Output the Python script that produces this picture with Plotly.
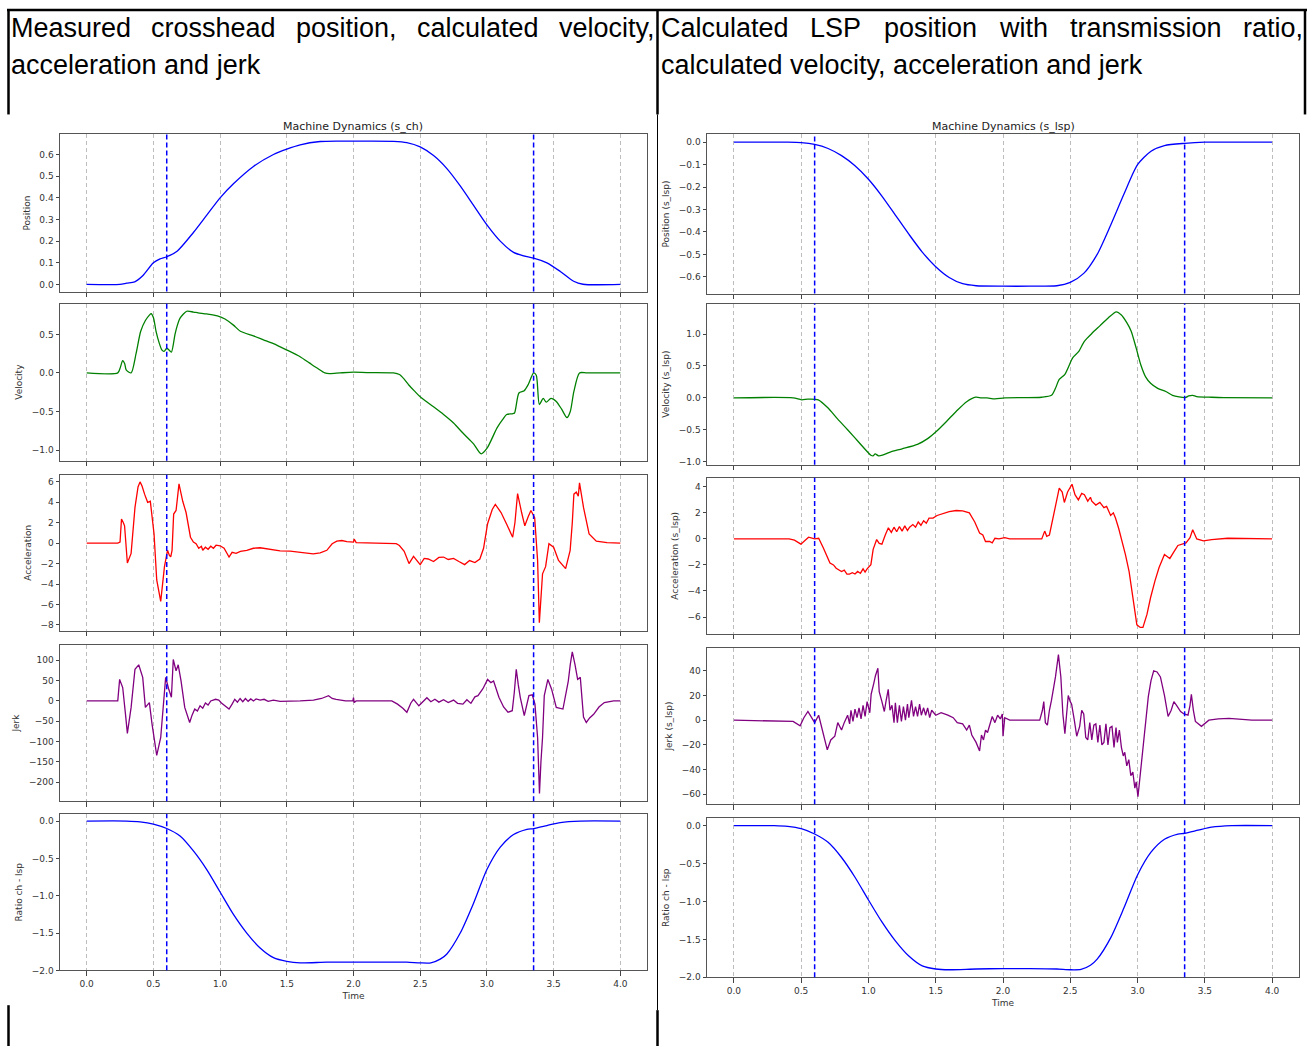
import plotly.graph_objects as go

W, H = 1307, 1051

# ---------------- data (time, value) ----------------
MARKER_TIMES = [0.6, 3.35]
X_TICKS = [0, 0.5, 1.0, 1.5, 2.0, 2.5, 3.0, 3.5, 4.0]

CH_POSITION = [(0, 0), (0.25, 0), (0.3, 0.006), (0.36, 0.012), (0.42, 0.04), (0.5, 0.1),
               (0.55, 0.118), (0.6, 0.128), (0.68, 0.155), (0.8, 0.24), (0.9, 0.32), (1.0, 0.40),
               (1.1, 0.465), (1.25, 0.545), (1.4, 0.60), (1.5, 0.625), (1.6, 0.645), (1.75, 0.66),
               (1.9, 0.662), (2.1, 0.662), (2.3, 0.661), (2.4, 0.655), (2.5, 0.635), (2.6, 0.595),
               (2.7, 0.535), (2.8, 0.455), (2.9, 0.365), (3.0, 0.275), (3.1, 0.2), (3.2, 0.148),
               (3.3, 0.128), (3.35, 0.122), (3.45, 0.10), (3.55, 0.06), (3.65, 0.015), (3.72, 0.001),
               (4.0, 0)]

CH_VELOCITY = [(0, 0), (0.233, 0), (0.25, 0.06), (0.27, 0.16), (0.285, 0.12), (0.296, 0.04),
               (0.333, 0.0), (0.37, 0.25), (0.405, 0.54), (0.44, 0.68), (0.47, 0.75), (0.483, 0.77),
               (0.5, 0.72), (0.52, 0.54), (0.545, 0.38), (0.563, 0.30), (0.58, 0.28), (0.60, 0.32),
               (0.615, 0.30), (0.635, 0.27), (0.662, 0.50), (0.68, 0.62), (0.70, 0.71), (0.75, 0.80),
               (0.8, 0.79), (0.835, 0.78), (0.9, 0.765), (0.98, 0.74), (1.037, 0.70), (1.1, 0.62),
               (1.152, 0.54), (1.25, 0.48), (1.325, 0.43), (1.4, 0.38), (1.497, 0.30), (1.6, 0.21),
               (1.669, 0.13), (1.73, 0.06), (1.785, 0.0), (1.82, -0.01), (1.9, 0.0), (2.0, 0.01),
               (2.1, 0.005), (2.3, 0.0), (2.344, -0.02), (2.38, -0.08), (2.416, -0.16), (2.46, -0.24),
               (2.50, -0.31), (2.6, -0.44), (2.675, -0.54), (2.75, -0.65), (2.82, -0.78), (2.9, -0.92),
               (2.957, -1.05), (3.0, -0.98), (3.077, -0.71), (3.12, -0.6), (3.148, -0.54), (3.19, -0.53),
               (3.207, -0.52), (3.24, -0.26), (3.28, -0.23), (3.31, -0.15), (3.35, 0.0), (3.37, -0.03),
               (3.393, -0.41), (3.422, -0.33), (3.445, -0.38), (3.48, -0.33), (3.52, -0.37), (3.56, -0.47),
               (3.60, -0.58), (3.625, -0.5), (3.652, -0.24), (3.694, 0.0), (3.75, 0.0), (4.0, 0.0)]

CH_ACCELERATION = [(0, 0), (0.233, 0), (0.25, 0.1), (0.261, 2.36), (0.275, 2.0), (0.284, 1.7),
                   (0.305, -1.94), (0.333, -1.0), (0.362, 3.5), (0.385, 5.5), (0.40, 6.0), (0.415, 5.6),
                   (0.434, 4.8), (0.457, 4.0), (0.477, 4.1), (0.49, 2.8), (0.505, 0.9), (0.525, -3.6),
                   (0.555, -5.7), (0.583, -2.3), (0.606, -0.7), (0.62, -1.2), (0.63, -1.35), (0.64, -0.7),
                   (0.652, 2.85), (0.67, 3.2), (0.692, 5.8), (0.705, 5.0), (0.72, 4.1), (0.745, 3.0),
                   (0.778, 0.58), (0.8, 0.1), (0.82, -0.06), (0.84, -0.5), (0.86, -0.3), (0.87, -0.7),
                   (0.89, -0.4), (0.91, -0.6), (0.93, -0.3), (0.95, -0.5), (0.97, -0.2), (1.0, -0.26),
                   (1.03, -0.5), (1.067, -1.36), (1.09, -0.9), (1.12, -1.0), (1.152, -0.8), (1.2, -0.7),
                   (1.25, -0.5), (1.3, -0.45), (1.35, -0.55), (1.4, -0.6), (1.45, -0.75), (1.525, -0.78),
                   (1.6, -0.9), (1.698, -1.04), (1.75, -0.95), (1.80, -0.7), (1.84, -0.06), (1.875, 0.2),
                   (1.913, 0.26), (1.95, 0.15), (2.0, 0.1), (2.005, 0.4), (2.02, 0.05), (2.287, 0.0),
                   (2.32, -0.05), (2.344, -0.23), (2.38, -0.8), (2.416, -2.0), (2.45, -1.3), (2.50, -2.1),
                   (2.53, -1.5), (2.56, -1.55), (2.6, -1.8), (2.64, -1.4), (2.675, -1.36), (2.71, -1.6),
                   (2.75, -1.5), (2.79, -1.8), (2.833, -2.1), (2.87, -1.7), (2.91, -1.9), (2.947, -1.55),
                   (2.975, -0.5), (3.005, 1.9), (3.04, 3.3), (3.063, 3.8), (3.106, 3.0), (3.15, 1.8),
                   (3.193, 0.58), (3.21, 2.0), (3.23, 4.85), (3.26, 3.0), (3.284, 1.7), (3.31, 2.6),
                   (3.33, 3.2), (3.358, 2.5), (3.38, -1.7), (3.393, -7.8), (3.405, -5.0), (3.417, -3.0),
                   (3.44, -2.3), (3.465, -0.06), (3.50, -0.4), (3.537, -1.7), (3.59, -2.5), (3.624, -0.7),
                   (3.64, 2.0), (3.652, 4.8), (3.67, 5.0), (3.685, 4.6), (3.694, 5.9), (3.724, 3.5),
                   (3.766, 0.9), (3.82, 0.2), (3.9, 0.05), (4.0, 0)]

CH_JERK = [(0, 0), (0.233, 0), (0.247, 53), (0.27, 33), (0.29, -30), (0.305, -80), (0.333, -16),
           (0.362, 78), (0.39, 89), (0.42, 58), (0.44, -16), (0.47, -4), (0.49, -57), (0.525, -134),
           (0.555, -90), (0.575, 0), (0.592, 58), (0.614, 30), (0.635, 9), (0.649, 102), (0.67, 74),
           (0.686, 89), (0.707, 50), (0.735, -16), (0.772, -53), (0.79, -35), (0.81, -20), (0.83, -25),
           (0.85, -12), (0.87, -18), (0.89, -5), (0.91, -10), (0.93, 0), (0.966, 4), (0.99, 2),
           (1.01, -5), (1.04, -12), (1.067, -20), (1.09, -8), (1.11, 4), (1.13, -3), (1.15, 6),
           (1.17, -2), (1.19, 6), (1.21, -1), (1.23, 5), (1.25, 0), (1.27, 5), (1.30, 2), (1.33, 4),
           (1.36, -1), (1.40, 2), (1.45, -1), (1.525, -1), (1.6, 0), (1.7, 2), (1.76, 6), (1.813, 13),
           (1.84, 6), (1.87, 4), (1.94, 0), (1.995, 0), (2.0, 8), (2.005, -4), (2.02, 0), (2.287, 0),
           (2.33, -8), (2.37, -18), (2.40, -28), (2.43, -5), (2.45, 4), (2.49, -12), (2.52, -2),
           (2.55, 8), (2.58, -2), (2.61, 4), (2.64, -3), (2.675, 3), (2.71, -4), (2.75, 2), (2.78, -6),
           (2.82, -8), (2.85, 3), (2.88, -6), (2.91, 10), (2.933, 13), (2.97, 30), (3.005, 53),
           (3.03, 45), (3.05, 49), (3.09, 9), (3.125, -15), (3.158, -28), (3.19, -24), (3.205, 20),
           (3.22, 78), (3.235, 40), (3.25, 9), (3.28, -36), (3.3, -5), (3.315, 13), (3.34, 15),
           (3.36, -8), (3.38, -90), (3.394, -228), (3.405, -150), (3.417, -90), (3.43, 13), (3.445, 40),
           (3.457, 53), (3.485, 29), (3.52, -16), (3.57, -20), (3.61, 49), (3.625, 90), (3.64, 121),
           (3.66, 90), (3.68, 53), (3.70, 58), (3.724, -40), (3.745, -53), (3.77, -42), (3.80, -33),
           (3.84, -15), (3.88, -4), (3.95, 0), (4.0, 0)]

CH_RATIO = [(0, 0), (0.3, 0), (0.4, -0.01), (0.5, -0.04), (0.6, -0.1), (0.7, -0.2), (0.8, -0.4),
            (0.9, -0.65), (1.0, -0.95), (1.1, -1.25), (1.2, -1.5), (1.3, -1.7), (1.4, -1.83),
            (1.5, -1.88), (1.6, -1.9), (1.8, -1.89), (2.0, -1.89), (2.2, -1.89), (2.4, -1.89),
            (2.5, -1.9), (2.58, -1.9), (2.65, -1.85), (2.7, -1.78), (2.8, -1.5), (2.9, -1.1),
            (3.0, -0.65), (3.1, -0.35), (3.2, -0.18), (3.3, -0.11), (3.35, -0.1), (3.45, -0.06),
            (3.55, -0.02), (3.7, 0), (4.0, 0)]

LSP_POSITION = [(0, 0), (0.4, 0), (0.5, -0.002), (0.6, -0.01), (0.7, -0.028), (0.8, -0.06),
                (0.9, -0.105), (1.0, -0.165), (1.1, -0.24), (1.2, -0.325), (1.3, -0.41), (1.4, -0.49),
                (1.5, -0.555), (1.6, -0.603), (1.7, -0.631), (1.8, -0.64), (2.0, -0.642), (2.2, -0.642),
                (2.4, -0.64), (2.5, -0.625), (2.6, -0.585), (2.7, -0.5), (2.8, -0.37), (2.9, -0.23),
                (3.0, -0.1), (3.1, -0.04), (3.2, -0.015), (3.35, -0.005), (3.5, 0), (4.0, 0)]

LSP_VELOCITY = [(0, 0), (0.44, 0), (0.503, -0.03), (0.55, -0.02), (0.627, -0.03), (0.70, -0.16),
                (0.77, -0.33), (0.845, -0.5), (0.93, -0.7), (1.018, -0.9), (1.035, -0.91),
                (1.05, -0.88), (1.075, -0.91), (1.104, -0.9), (1.162, -0.85), (1.25, -0.8),
                (1.364, -0.73), (1.44, -0.64), (1.508, -0.52), (1.58, -0.37), (1.653, -0.21),
                (1.73, -0.06), (1.797, 0.01), (1.84, 0.0), (1.88, 0.0), (1.94, -0.015), (2.013, 0.0),
                (2.288, 0.01), (2.36, 0.04), (2.39, 0.15), (2.418, 0.29), (2.46, 0.37), (2.519, 0.63),
                (2.56, 0.72), (2.606, 0.89), (2.66, 1.01), (2.72, 1.13), (2.78, 1.25), (2.842, 1.35),
                (2.88, 1.30), (2.92, 1.18), (2.952, 1.05), (2.99, 0.78), (3.024, 0.52), (3.06, 0.33),
                (3.097, 0.23), (3.15, 0.15), (3.21, 0.10), (3.26, 0.04), (3.355, 0.005), (3.38, 0.03),
                (3.41, 0.04), (3.44, 0.02), (3.55, 0.01), (3.64, 0.005), (4.0, 0)]

LSP_ACCELERATION = [(0, 0), (0.41, 0), (0.45, -0.1), (0.498, -0.4), (0.53, -0.1), (0.555, 0.13),
                    (0.6, 0), (0.63, 0.05), (0.665, -0.7), (0.714, -1.85), (0.74, -2.0), (0.76, -2.25),
                    (0.8, -2.5), (0.82, -2.4), (0.84, -2.7), (0.859, -2.7), (0.88, -2.6), (0.9, -2.7),
                    (0.92, -2.5), (0.94, -2.65), (0.96, -2.3), (0.975, -2.55), (0.99, -2.3),
                    (1.018, -1.98), (1.035, -0.8), (1.061, -0.05), (1.08, -0.35), (1.10, -0.4),
                    (1.125, 0.3), (1.148, 0.85), (1.17, 0.5), (1.19, 0.9), (1.21, 0.55), (1.23, 0.95),
                    (1.25, 0.6), (1.27, 1.0), (1.29, 0.65), (1.306, 0.9), (1.33, 1.1), (1.35, 0.9),
                    (1.37, 1.3), (1.39, 1.05), (1.41, 1.4), (1.43, 1.2), (1.45, 1.6), (1.48, 1.6),
                    (1.51, 1.8), (1.55, 1.95), (1.6, 2.1), (1.653, 2.18), (1.7, 2.15), (1.75, 2.0),
                    (1.79, 1.3), (1.826, 0.45), (1.85, 0.3), (1.87, -0.2), (1.90, -0.2), (1.92, -0.3),
                    (1.94, 0.05), (1.97, 0.0), (2.013, 0.1), (2.05, 0.0), (2.288, 0.0), (2.31, 0.6),
                    (2.325, 0.2), (2.345, 0.3), (2.38, 2.0), (2.418, 3.9), (2.44, 3.6), (2.456, 2.8),
                    (2.48, 3.6), (2.513, 4.2), (2.535, 3.4), (2.56, 3.0), (2.585, 3.5), (2.605, 3.4),
                    (2.63, 2.9), (2.65, 3.2), (2.66, 2.9), (2.69, 2.6), (2.72, 2.8), (2.75, 2.4),
                    (2.77, 2.5), (2.80, 1.8), (2.82, 2.0), (2.836, 1.6), (2.86, 0.8), (2.894, -0.45),
                    (2.91, -1.2), (2.937, -2.5), (2.96, -4.0), (2.98, -5.6), (2.995, -6.6), (3.02, -6.8),
                    (3.04, -6.8), (3.07, -5.8), (3.097, -4.5), (3.13, -3.2), (3.16, -2.2), (3.20, -1.2),
                    (3.24, -1.5), (3.27, -1.0), (3.30, -0.5), (3.36, -0.3), (3.39, 0.1), (3.41, 0.7),
                    (3.425, 0.4), (3.44, 0.0), (3.49, -0.15), (3.55, -0.05), (3.67, 0.05), (4.0, 0)]

LSP_JERK = [(0, 0), (0.44, -1), (0.492, -4.5), (0.52, 2), (0.55, 7), (0.58, 2), (0.6, -2), (0.63, 4),
            (0.665, -12), (0.694, -24), (0.72, -16), (0.75, -13), (0.772, -2), (0.80, -8), (0.82, -2),
            (0.845, 4), (0.86, -3), (0.87, 8), (0.885, -1), (0.9, 9), (0.915, 2), (0.93, 10),
            (0.945, 1), (0.96, 12), (0.975, 3), (0.99, 15), (1.01, 6), (1.02, 21), (1.04, 30),
            (1.052, 36), (1.07, 42), (1.08, 23), (1.1, 15), (1.118, 7), (1.13, 15), (1.147, 25),
            (1.16, 8), (1.175, 12), (1.19, -2), (1.2, 14), (1.215, -2), (1.23, 12), (1.245, -1),
            (1.26, 11), (1.275, 0), (1.29, 13), (1.3, 2), (1.32, 16), (1.335, 3), (1.35, 11),
            (1.365, 3), (1.38, 13), (1.393, 4), (1.41, 10), (1.425, 4), (1.44, 10), (1.455, 2),
            (1.47, 8), (1.5, 4), (1.54, 6), (1.59, 4), (1.63, 2), (1.66, -2), (1.7, -3), (1.73, -8),
            (1.75, -4), (1.768, -12), (1.8, -18), (1.826, -25), (1.84, -12), (1.855, -16), (1.87, -8),
            (1.885, -10), (1.9, -4), (1.92, 3), (1.94, -2), (1.96, 4), (1.98, 1), (1.995, 5),
            (2.0, -13), (2.013, 2), (2.05, 0), (2.273, 0), (2.293, 8), (2.303, 15), (2.315, -2),
            (2.33, -4), (2.345, 8), (2.36, 16), (2.39, 35), (2.412, 53), (2.43, 35), (2.445, 5),
            (2.46, -11), (2.475, 10), (2.485, 20), (2.5, 15), (2.51, 13), (2.53, 0), (2.548, -13),
            (2.57, -5), (2.585, 8), (2.6, 5), (2.615, -14), (2.63, -16), (2.645, -2), (2.66, -16),
            (2.675, -4), (2.69, -3), (2.705, -18), (2.72, -4), (2.735, -20), (2.75, -18), (2.765, -3),
            (2.78, -20), (2.795, -6), (2.81, -5), (2.825, -22), (2.84, -6), (2.85, -18), (2.865, -8),
            (2.88, -22), (2.894, -29), (2.905, -26), (2.92, -37), (2.935, -32), (2.95, -45),
            (2.965, -42), (2.98, -55), (2.99, -50), (3.003, -62), (3.02, -45), (3.04, -24), (3.06, -2),
            (3.08, 19), (3.1, 32), (3.12, 40), (3.145, 39), (3.17, 35), (3.2, 20), (3.227, 3),
            (3.25, 8), (3.27, 15), (3.29, 12), (3.32, 7), (3.345, 5), (3.375, 4), (3.39, 12),
            (3.40, 21), (3.415, 8), (3.43, -1), (3.475, -5), (3.53, 0), (3.6, 1), (3.68, 1.5),
            (3.85, 0), (4.0, 0)]

LSP_RATIO = [(0, 0), (0.3, 0), (0.4, -0.01), (0.5, -0.04), (0.6, -0.11), (0.7, -0.22), (0.8, -0.42),
             (0.9, -0.68), (1.0, -0.98), (1.1, -1.27), (1.2, -1.52), (1.3, -1.72), (1.4, -1.85),
             (1.5, -1.89), (1.6, -1.9), (1.8, -1.89), (2.0, -1.885), (2.2, -1.885), (2.4, -1.89),
             (2.5, -1.9), (2.58, -1.895), (2.65, -1.84), (2.7, -1.76), (2.8, -1.48), (2.9, -1.08),
             (3.0, -0.65), (3.1, -0.35), (3.2, -0.18), (3.3, -0.11), (3.35, -0.1), (3.45, -0.06),
             (3.55, -0.02), (3.7, 0), (4.0, 0)]

LEFT_TITLES = ["Position", "Velocity", "Acceleration", "Jerk", "Ratio ch - lsp"]
RIGHT_TITLES = ["Position (s_lsp)", "Velocity (s_lsp)", "Acceleration (s_lsp)", "Jerk (s_lsp)", "Ratio ch - lsp"]
LEFT_YTICKS = [[0.0, 0.1, 0.2, 0.3, 0.4, 0.5, 0.6], [-1.0, -0.5, 0.0, 0.5],
               [-8, -6, -4, -2, 0, 2, 4, 6], [-200, -150, -100, -50, 0, 50, 100],
               [-2.0, -1.5, -1.0, -0.5, 0.0]]
RIGHT_YTICKS = [[-0.6, -0.5, -0.4, -0.3, -0.2, -0.1, 0.0], [-1.0, -0.5, 0.0, 0.5, 1.0],
                [-6, -4, -2, 0, 2, 4], [-60, -40, -20, 0, 20, 40],
                [-2.0, -1.5, -1.0, -0.5, 0.0]]

HEADER_LEFT_LINE1 = ["Measured", "crosshead", "position,", "calculated", "velocity,"]
HEADER_LEFT_LINE2 = "acceleration and jerk"
HEADER_RIGHT_LINE1 = ["Calculated", "LSP", "position", "with", "transmission", "ratio,"]
HEADER_RIGHT_LINE2 = "calculated velocity, acceleration and jerk"

# ---------------- layout helpers ----------------
def xp(x):
    return x / W

def yp(y):
    return 1 - y / H

def fmt(v, d):
    s = f"{abs(v):.{d}f}"
    return "\u2212" + s if v < 0 else s

# Arial / Liberation Sans advance widths (per 1000 em) for justification
ADV = {'a': 556, 'b': 556, 'c': 500, 'd': 556, 'e': 556, 'f': 278, 'g': 556, 'h': 556, 'i': 222,
       'j': 222, 'k': 500, 'l': 222, 'm': 833, 'n': 556, 'o': 556, 'p': 556, 'q': 556, 'r': 333,
       's': 500, 't': 278, 'u': 556, 'v': 500, 'w': 722, 'x': 500, 'y': 500, 'z': 500, ',': 278,
       ' ': 278, 'C': 722, 'L': 556, 'M': 833, 'P': 667, 'S': 667}

def text_width(s, size):
    return sum(ADV.get(ch, 556) for ch in s) * size / 1000.0

def justify(words, left, right, size):
    widths = [text_width(w, size) for w in words]
    gap = (right - left - sum(widths)) / (len(words) - 1)
    xs, x = [], left
    for w in widths:
        xs.append(x)
        x += w + gap
    return xs

BLUE = "#0000ff"
GREEN = "#008000"
RED = "#ff0000"
PURPLE = "#800080"

panels = [
    # col, row, data, color, title, yrange, ticks, decimals, smooth
    (0, 0, CH_POSITION, BLUE, LEFT_TITLES[0], [-0.033, 0.693], LEFT_YTICKS[0], 1, True),
    (0, 1, CH_VELOCITY, GREEN, LEFT_TITLES[1], [-1.14, 0.90], LEFT_YTICKS[1], 1, True),
    (0, 2, CH_ACCELERATION, RED, LEFT_TITLES[2], [-8.6, 6.7], LEFT_YTICKS[2], 0, False),
    (0, 3, CH_JERK, PURPLE, LEFT_TITLES[3], [-247, 138], LEFT_YTICKS[3], 0, False),
    (0, 4, CH_RATIO, BLUE, LEFT_TITLES[4], [-2.0, 0.093], LEFT_YTICKS[4], 1, True),
    (1, 0, LSP_POSITION, BLUE, RIGHT_TITLES[0], [-0.675, 0.035], RIGHT_YTICKS[0], 1, True),
    (1, 1, LSP_VELOCITY, GREEN, RIGHT_TITLES[1], [-1.05, 1.48], RIGHT_YTICKS[1], 1, True),
    (1, 2, LSP_ACCELERATION, RED, RIGHT_TITLES[2], [-7.3, 4.7], RIGHT_YTICKS[2], 0, False),
    (1, 3, LSP_JERK, PURPLE, RIGHT_TITLES[3], [-68, 58.5], RIGHT_YTICKS[3], 0, False),
    (1, 4, LSP_RATIO, BLUE, RIGHT_TITLES[4], [-2.0, 0.1], RIGHT_YTICKS[4], 1, True),
]

COL_X = [(60, 647), (707, 1299)]
ROW_Y = [
    [(135, 293), (305, 463), (477, 634), (648, 805), (818, 975)],
    [(135, 295), (305, 467), (480, 637), (651, 808), (822, 982)],
]

FONT = "DejaVu Sans"
fig = go.Figure()
layout = dict(
    width=W, height=H, margin=dict(l=0, r=0, t=0, b=0),
    paper_bgcolor="white", plot_bgcolor="white", showlegend=False,
    font=dict(family=FONT, size=9, color="#333"),
)
shapes = []
annotations = []

for i, (col, row, data, color, title, yr, ticks, dec, smooth) in enumerate(panels):
    n = i + 1
    xa = "x" if n == 1 else f"x{n}"
    ya = "y" if n == 1 else f"y{n}"
    xkey = "xaxis" if n == 1 else f"xaxis{n}"
    ykey = "yaxis" if n == 1 else f"yaxis{n}"
    x0, x1 = COL_X[col]
    top, bot = ROW_Y[col][row]
    last = row == 4
    line = dict(color=color, width=1.3)
    if smooth:
        line.update(shape="spline", smoothing=0.7)
    fig.add_trace(go.Scatter(
        x=[p[0] for p in data], y=[p[1] for p in data], mode="lines",
        line=line, xaxis=xa, yaxis=ya, hoverinfo="skip",
    ))
    layout[xkey] = dict(
        domain=[xp(x0), xp(x1)], anchor=ya, range=[-0.2, 4.2],
        tickvals=X_TICKS, ticktext=[f"{v:.1f}" for v in X_TICKS],
        showticklabels=last, ticks="outside", ticklen=4.5, tickcolor="#444",
        showgrid=True, gridcolor="#bdbdbd", gridwidth=1, griddash="4px,3px",
        showline=True, mirror=True, linecolor="#555", linewidth=1, zeroline=False,
        tickfont=dict(size=9, color="#333"),
        title=dict(text="Time" if last else "", font=dict(size=9, color="#333"), standoff=5),
    )
    layout[ykey] = dict(
        domain=[yp(bot), yp(top)], anchor=xa, range=yr,
        tickvals=ticks, ticktext=[fmt(v, dec) for v in ticks],
        ticks="outside", ticklen=3.5, tickcolor="#444",
        showgrid=False, zeroline=False,
        showline=True, mirror=True, linecolor="#555", linewidth=1,
        tickfont=dict(size=9, color="#333"),
        title=dict(text=title, font=dict(size=9, color="#333"), standoff=7),
    )
    for t in MARKER_TIMES:
        shapes.append(dict(type="line", xref=xa, yref=f"{ya} domain", x0=t, x1=t, y0=0, y1=1,
                           line=dict(color=BLUE, width=1.5, dash="5px,3px"), layer="above"))

# subplot titles
annotations.append(dict(text="Machine Dynamics (s_ch)", x=xp(353), y=yp(127), xref="paper", yref="paper",
                        showarrow=False, xanchor="center", yanchor="middle",
                        font=dict(size=11, color="#222", family=FONT)))
annotations.append(dict(text="Machine Dynamics (s_lsp)", x=xp(1003), y=yp(127), xref="paper", yref="paper",
                        showarrow=False, xanchor="center", yanchor="middle",
                        font=dict(size=11, color="#222", family=FONT)))

# header text (justified first lines)
HSIZE = 27
HFONT = dict(family="Liberation Sans", size=HSIZE, color="black")
PAD = 2
for words, left, right in [(HEADER_LEFT_LINE1, 10.5, 656.5), (HEADER_RIGHT_LINE1, 660.5, 1303.5)]:
    for w, x in zip(words, justify(words, left, right, HSIZE)):
        annotations.append(dict(text=w, x=xp(x - PAD), y=yp(28), xref="paper", yref="paper",
                                showarrow=False, xanchor="left", yanchor="middle", font=HFONT))
annotations.append(dict(text=HEADER_LEFT_LINE2, x=xp(10.5 - PAD), y=yp(65), xref="paper", yref="paper",
                        showarrow=False, xanchor="left", yanchor="middle", font=HFONT))
annotations.append(dict(text=HEADER_RIGHT_LINE2, x=xp(660.5 - PAD), y=yp(65),
                        xref="paper", yref="paper", showarrow=False, xanchor="left", yanchor="middle",
                        font=HFONT))

# table frame lines
def pline(xa0, ya0, xa1, ya1, w):
    return dict(type="line", xref="paper", yref="paper", x0=xp(xa0), y0=yp(ya0), x1=xp(xa1), y1=yp(ya1),
                line=dict(color="black", width=w), layer="above")

shapes += [
    pline(7, 10, 1307, 10, 2.5),
    pline(8.5, 10, 8.5, 115, 2.5),
    pline(8.5, 1010, 8.5, 1051, 2.5),
    pline(657.5, 10, 657.5, 115, 2.5),
    pline(657.5, 115, 657.5, 1015, 1),
    pline(657.5, 1015, 657.5, 1051, 2.5),
    pline(1305, 10, 1305, 115, 2.5),
]

layout["shapes"] = shapes
layout["annotations"] = annotations
fig.update_layout(**layout)
fig.write_html("out.html")
